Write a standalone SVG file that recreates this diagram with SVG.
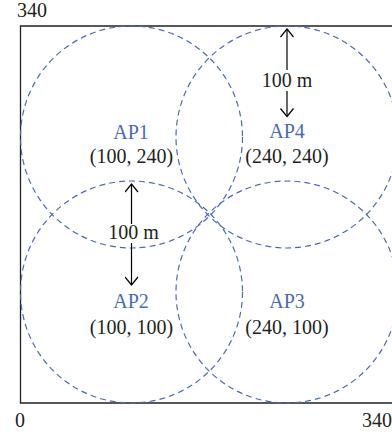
<svg xmlns="http://www.w3.org/2000/svg" width="392" height="435" viewBox="0 0 392 435">
<style>
text{font-family:"Liberation Serif","Times New Roman",serif;font-size:20px;fill:#231f20}
.ap{fill:#4a6bb4;text-anchor:middle}
.co{text-anchor:middle}
.cir{fill:none;stroke:#4a6bb4;stroke-width:1.2;stroke-dasharray:6 4}
.arr{fill:none;stroke:#000;stroke-width:1.2}
</style>
<defs>
<marker id="ah" viewBox="-9 -7 10 14" markerWidth="10" markerHeight="14" refX="0" refY="0" orient="auto-start-reverse" markerUnits="userSpaceOnUse">
<path d="M-8,-6.5 L0,0 L-8,6.5" fill="none" stroke="#000" stroke-width="1.2"/>
</marker>
</defs>
<rect width="392" height="435" fill="#fff"/>
<g id="frame">
<path d="M392 26 H20.5 V403 H392" fill="none" stroke="#222" stroke-width="1.3"/>
<text x="17" y="17">340</text>
<text x="20" y="427" text-anchor="middle">0</text>
<text x="392" y="427" text-anchor="end">340</text>
</g>
<g id="AP1">
<circle class="cir" cx="131.5" cy="137" r="111"/>
<text class="ap" x="131" y="138.5">AP1</text>
<text class="co" x="131.5" y="163">(100, 240)</text>
</g>
<g id="AP2">
<circle class="cir" cx="131.5" cy="292" r="111"/>
<text class="ap" x="131" y="308">AP2</text>
<text class="co" x="131.5" y="333.5">(100, 100)</text>
</g>
<g id="AP3">
<circle class="cir" cx="287" cy="292" r="111"/>
<text class="ap" x="287" y="308">AP3</text>
<text class="co" x="287" y="333.5">(240, 100)</text>
</g>
<g id="AP4">
<circle class="cir" cx="287" cy="137" r="111"/>
<text class="ap" x="287" y="138">AP4</text>
<text class="co" x="287" y="163">(240, 240)</text>
</g>
<g id="connectors">
<path class="arr" d="M131.5 224 V184" marker-end="url(#ah)"/>
<path class="arr" d="M131.5 243 V285" marker-end="url(#ah)"/>
<text class="co" x="133.5" y="238.5">100 m</text>
<path class="arr" d="M287 70 V29" marker-end="url(#ah)"/>
<path class="arr" d="M287 91 V116.5" marker-end="url(#ah)"/>
<text class="co" x="287" y="87">100 m</text>
</g>
</svg>
